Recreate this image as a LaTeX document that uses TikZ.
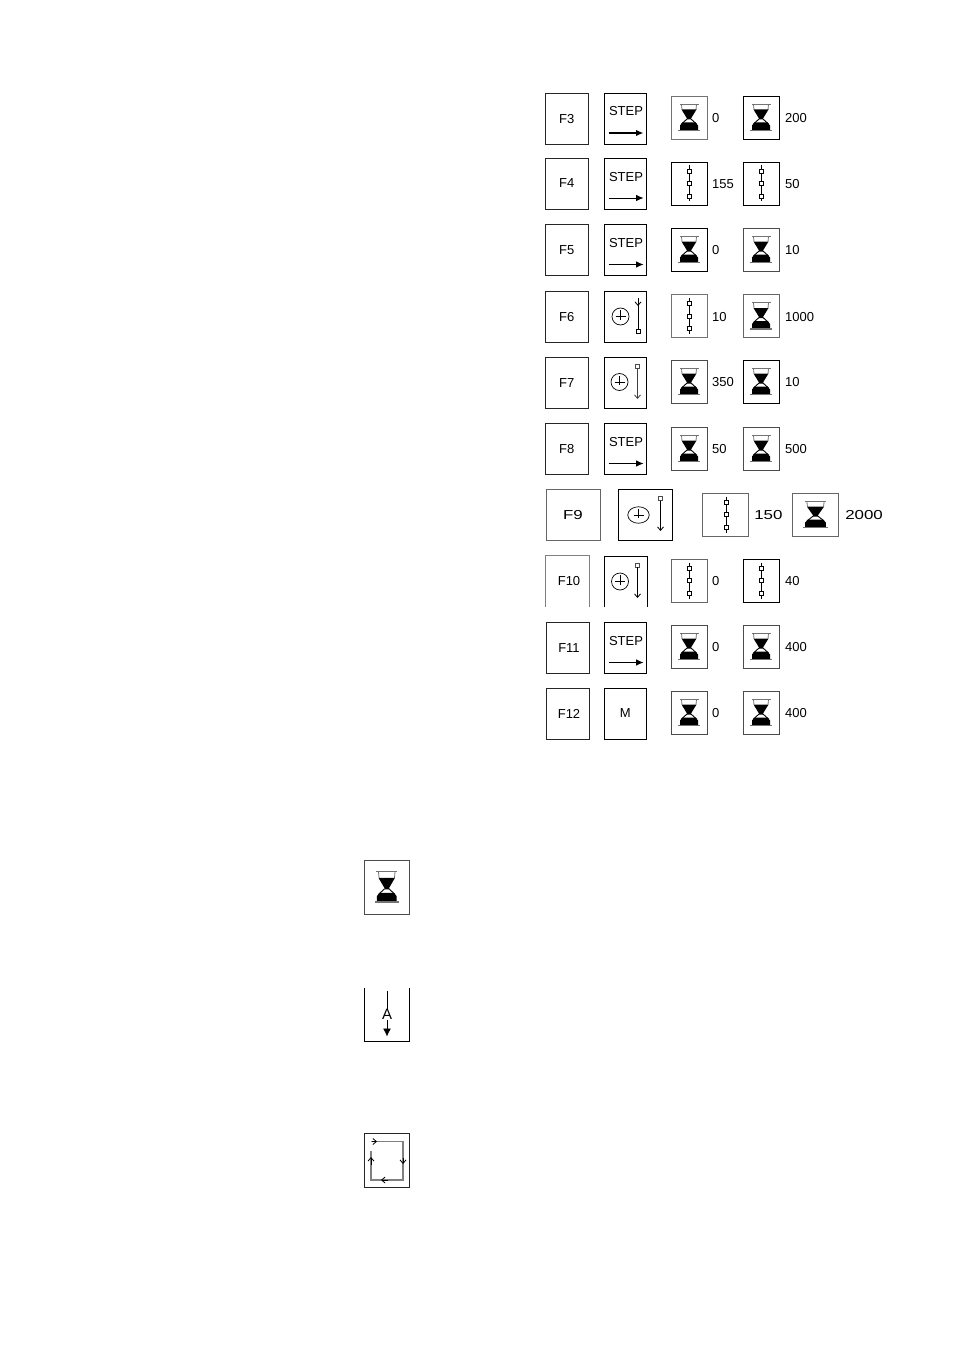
\documentclass[tikz,border=0pt]{standalone}
\usepackage{fontspec}
\setmainfont{Liberation Sans}
\usetikzlibrary{arrows.meta}
\tikzset{
  boxbase/.style={inner sep=0pt,outer sep=0pt,line width=0.9pt,minimum width=#1},
  keybox/.style={boxbase=43.5pt,draw=black!85,minimum height=51pt,font=\fontsize{13}{15}\selectfont},
  funcbox/.style={boxbase=42.5pt,draw=black,minimum height=51pt,font=\fontsize{13}{15}\selectfont},
  iconbox/.style={boxbase=36pt,draw=#1,minimum height=43pt},
  iconbox/.default=black,
  widekey/.style={boxbase=54pt,draw=#1,minimum height=51pt},
  wideicon/.style={boxbase=46pt,draw=#1,minimum height=43pt},
  openbox/.style={boxbase=44pt,minimum height=51pt,font=\fontsize{13}{15}\selectfont},
  val/.style={anchor=west,inner sep=0pt,font=\fontsize{13}{15}\selectfont},
  wideval/.style={anchor=west,inner sep=0pt,xscale=1.3,font=\fontsize{13}{15}\selectfont},
  thin line/.style={line width=0.8pt},
  steparrow/.style={-{Latex[length=7.5pt,width=6.5pt]},line width=#1},
  veearrow/.style={-{Straight Barb[length=3.5pt,width=6pt]},line width=0.8pt},
  smallsq/.style={draw=black,fill=white,line width=0.8pt,minimum size=4pt,inner sep=0pt},
  sand/.style={fill=black,draw=none},
  glassline/.style={draw=black!55,line width=0.8pt}
}
\newcommand{\Keyt}[1]{\raisebox{-1pt}{#1}}
\newcommand{\GlassMark}{%
  \draw[glassline,line width=1.1pt] (-9.5,-13.2) -- (9.5,-13.2);
  \draw[glassline] (-7.5,-13) -- (-7,-8) (7.5,-13) -- (7,-8);
  \fill[sand] (-7.5,-8) -- (7.5,-8) -- (2,1) -- (2,2) -- (-2,2) -- (-2,1) -- cycle;
  \draw[line width=0.9pt] (-2,1.5) -- (-7.5,6.5) (2,1.5) -- (7.5,6.5);
  \fill[sand] (-6.5,5) -- (6.5,5) -- (9,8) -- (9,12.8) -- (-9,12.8) -- (-9,8) -- cycle;
  \draw[glassline,line width=1.1pt] (-11,13) -- (11,13);
}
\newcommand{\GlassIcon}[4]{%
  \node[iconbox=#4] (#1) at (#2,#3) {};
  \begin{scope}[shift={(#1.center)}]\GlassMark\end{scope}}
\newcommand{\ChainIcon}[4]{%
  \node[iconbox=#4] (#1) at (#2,#3) {};
  \begin{scope}[shift={(#1.center)}]
    \draw[line width=0.8pt] (0.5,-18) -- (0.5,18);
    \foreach \d in {-12.5,0,12.5} \node[smallsq] at (0.5,\d) {};
  \end{scope}}
\newcommand{\StepBox}[6]{%
  \node[funcbox] (#1) at (#2,#3) {};
  \node[val,anchor=center] (#1t) at (626,#3-#6) {STEP};
  \coordinate (#1a) at (608.5,#3+#4);
  \coordinate (#1b) at (643.5,#3+#4);
  \draw[steparrow=#5] (#1a) -- (#1b);}
% clock glyph: name, cx, cy, size, xscale
\newcommand{\ClockMark}[5]{%
  \node[draw=black,circle,line width=0.7pt,inner sep=0pt,minimum size=#4pt,xscale=#5] (#1) at (#2,#3) {};
  \begin{scope}[shift={(#1.center)}]
    \draw[line width=0.7pt] (-5,0) -- (5,0) (0,-6.5) -- (0,3);
  \end{scope}}
\begin{document}
\begin{tikzpicture}[x=1pt,y=-1pt]
\useasboundingbox[fill=white] (0,0) rectangle (954,1351);
% F3
\node[keybox] (k3) at (566.75,119) {F3};
\StepBox{s3}{625.25}{119}{14}{1.4pt}{8}
\GlassIcon{a3}{689}{117.5}{black!55}
\node[val] (v3a) at (712,118.5) {0};
\GlassIcon{b3}{761}{117.5}{black}
\node[val] (v3b) at (785,118.5) {200};
% F4
\node[keybox] (k4) at (566.75,183.5) {\Keyt{F4}};
\StepBox{s4}{625.25}{183.5}{14.5}{0.8pt}{6.5}
\ChainIcon{a4}{689}{183.5}{black}
\node[val] (v4a) at (712,184.5) {155};
\ChainIcon{b4}{761}{183.5}{black}
\node[val] (v4b) at (785,184.5) {50};
% F5
\node[keybox] (k5) at (566.75,250) {\Keyt{F5}};
\StepBox{s5}{625.25}{250}{14.5}{0.8pt}{7}
\GlassIcon{a5}{689}{249.5}{black}
\node[val] (v5a) at (712,250.5) {0};
\GlassIcon{b5}{761}{249.5}{black!70}
\node[val] (v5b) at (785,250.5) {10};
% F6
\node[keybox] (k6) at (566.75,317) {\Keyt{F6}};
\node[funcbox] (s6) at (625.25,317) {};
\ClockMark{c6}{620.5}{316.5}{17}{1}
\coordinate (l6a) at (638,298);
\node[smallsq] (l6b) at (638,331) {};
\draw[thin line] (l6a) -- (l6b);
\draw[veearrow] (638,300) -- (638,306);
\ChainIcon{a6}{689}{316}{black!55}
\node[val] (v6a) at (712,317) {10};
\GlassIcon{b6}{761}{316}{black!60}
\node[val] (v6b) at (785,317) {1000};
% F7
\node[keybox] (k7) at (566.75,383) {\Keyt{F7}};
\node[funcbox] (s7) at (625.25,383) {};
\ClockMark{c7}{619.5}{382}{17}{1}
\node[smallsq,draw=black!70] (l7a) at (637.5,366) {};
\coordinate (l7b) at (637.5,399);
\draw[veearrow,draw=black!75] (l7a) -- (l7b);
\GlassIcon{a7}{689}{381.5}{black!70}
\node[val] (v7a) at (712,382.5) {350};
\GlassIcon{b7}{761}{381.5}{black}
\node[val] (v7b) at (785,382.5) {10};
% F8
\node[keybox] (k8) at (566.75,449) {\Keyt{F8}};
\StepBox{s8}{625.25}{449}{14.5}{0.8pt}{7}
\GlassIcon{a8}{689}{448.5}{black!70}
\node[val] (v8a) at (712,449.5) {50};
\GlassIcon{b8}{761}{448.5}{black!70}
\node[val] (v8b) at (785,449.5) {500};
% F9
\node[widekey=black!60] (k9) at (573,515) {\fontsize{13}{15}\selectfont\scalebox{1.3}[1]{F9}};
\node[widekey=black] (s9) at (645.5,515) {};
\ClockMark{c9}{638.5}{515}{16.5}{1.3}
\node[smallsq,draw=black!70] (l9a) at (660.5,498.5) {};
\coordinate (l9b) at (660.5,531);
\draw[veearrow] (l9a) -- (l9b);
\node[wideicon=black!60] (a9) at (725,514.5) {};
\begin{scope}[shift={(a9.center)}]
  \draw[line width=0.8pt] (1,-18) -- (1,18);
  \foreach \d in {-12.5,0,12.5} \node[smallsq] at (1,\d) {};
\end{scope}
\node[wideval] (v9a) at (754,515.5) {150};
\node[wideicon=black!60] (b9) at (815.5,514.5) {};
\begin{scope}[shift={(b9.center)},xscale=1.15]\GlassMark\end{scope}
\node[wideval] (v9b) at (845,515.5) {2000};
% F10
\node[openbox] (k10) at (567,581) {\hspace{4pt}\Keyt{F10}};
\draw[line width=0.8pt,draw=black!50] (k10.south west) -- (k10.north west) -- (k10.north east) -- (k10.south east);
\node[openbox,minimum width=43.5pt] (s10) at (626,581.5) {};
\draw[line width=0.9pt] (s10.south west) -- (s10.north west) -- (s10.north east) -- (s10.south east);
\ClockMark{c10}{620}{581.5}{17}{1}
\node[smallsq,draw=black!70] (l10a) at (637.5,565) {};
\coordinate (l10b) at (637.5,598);
\draw[veearrow] (l10a) -- (l10b);
\ChainIcon{a10}{689}{580.5}{black!60}
\node[val] (v10a) at (712,581.5) {0};
\ChainIcon{b10}{761}{580.5}{black}
\node[val] (v10b) at (785,581.5) {40};
% F11
\node[keybox,minimum width=43pt] (k11) at (567.5,648) {\hspace{3pt}\Keyt{F11}};
\StepBox{s11}{625.25}{648}{14.5}{0.8pt}{7}
\GlassIcon{a11}{689}{646.5}{black!70}
\node[val] (v11a) at (712,647.5) {0};
\GlassIcon{b11}{761}{646.5}{black!70}
\node[val] (v11b) at (785,647.5) {400};
% F12
\node[keybox,minimum width=43pt] (k12) at (567.5,713.5) {\hspace{3pt}F12};
\node[funcbox] (s12) at (625.25,713.5) {\raisebox{1pt}{M}};
\GlassIcon{a12}{689}{712.5}{black!70}
\node[val] (v12a) at (712,713.5) {0};
\GlassIcon{b12}{761}{712.5}{black!70}
\node[val] (v12b) at (785,713.5) {400};
% lower hourglass
\node[boxbase=45.5pt,draw=black!70,minimum height=54pt] (hg) at (386.75,887) {};
\begin{scope}[shift={(hg.center)},xscale=1.1,yscale=1.15]\GlassMark\end{scope}
% A box
\node[boxbase=45.5pt,minimum height=53pt] (abox) at (386.75,1014.5) {};
\draw[line width=0.9pt] (abox.north west) -- (abox.south west) -- (abox.south east) -- (abox.north east);
\node[val,anchor=center,font=\fontsize{15}{17}\selectfont] (alab) at (387,1014.5) {A};
\coordinate (atop) at (387,991);
\coordinate (abot) at (387,1036.5);
\draw[line width=0.8pt] (atop) -- (alab.north);
\draw[line width=0.8pt,-{Latex[length=8pt,width=8pt]}] (alab.south) -- (abot);
% cycle box
\node[boxbase=45.5pt,draw=black!85,minimum height=54pt] (cyc) at (386.75,1160) {};
\coordinate (p1) at (371,1141.5);
\coordinate (p2) at (403,1141.5);
\coordinate (p3) at (403,1180);
\coordinate (p4) at (371,1180);
\coordinate (p5) at (371,1151);
\draw[black!50,line width=1.1pt] (p1) -- (p2) -- (p3) -- (p4) -- (p5);
\draw[veearrow] (372,1141.5) -- (377,1141.5);
\draw[veearrow] (403,1158) -- (403,1164);
\draw[veearrow] (388,1180) -- (381,1180);
\draw[veearrow] (371,1165) -- (371,1157);
\end{tikzpicture}
\end{document}
